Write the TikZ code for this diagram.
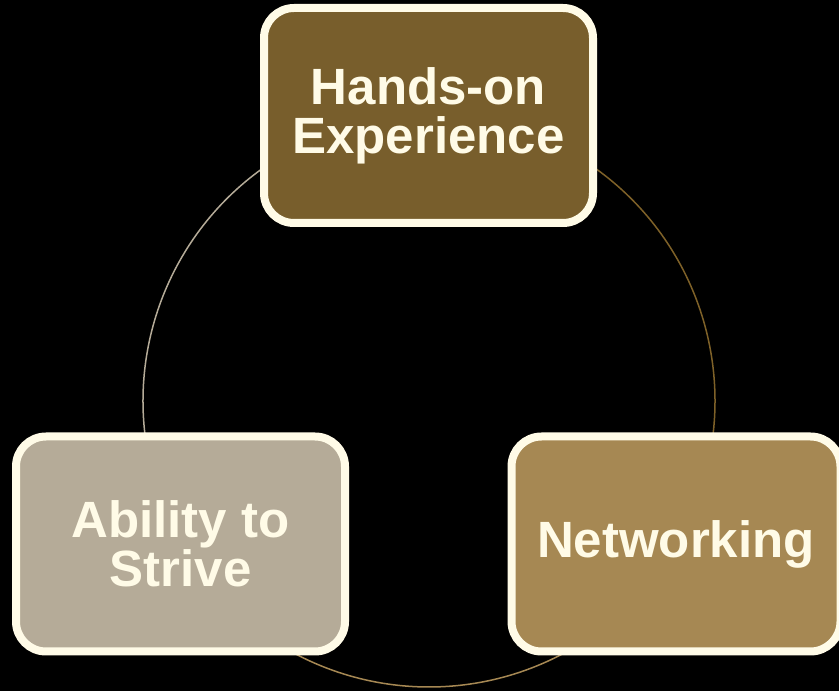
\documentclass[tikz,border=0pt]{standalone}
\usepackage{fontspec}
\setmainfont{Liberation Sans}
\definecolor{cream}{HTML}{FFFBE7}
\definecolor{bronze}{HTML}{785E2C}
\definecolor{stone}{HTML}{B5AB98}
\definecolor{ochre}{HTML}{A68853}
\definecolor{ringgold}{HTML}{7E6128}
\begin{document}
\begin{tikzpicture}[x=1pt,y=1pt,line join=round,
    cyclebox/.style={draw=cream,line width=8pt,rounded corners=30pt,inner sep=0pt,
      minimum width=329pt,minimum height=215pt,align=center,text=cream,
      font=\bfseries\fontsize{51}{49}\selectfont},
    ring/.style={line width=1.5pt}]
  \clip (0,0) rectangle (839,691);
  \fill[black] (0,0) rectangle (839,691);
  \coordinate (hub) at (429,290);
  % ring segments, drawn first so the boxes cover their ends
  \draw[ring,stone] ([shift={(120:286)}]hub) arc[start angle=120,end angle=190,radius=286];
  \draw[ring,ringgold] ([shift={(60:286)}]hub) arc[start angle=60,end angle=-10,radius=286];
  \draw[ring,ochre] ([shift={(240:286)}]hub) arc[start angle=240,end angle=300,radius=286];
  \node[cyclebox,fill=bronze] (hands) at (428.5,575.5) {Hands-on\\Experience};
  \node[cyclebox,fill=stone] (strive) at (180.5,147) {Ability to\\Strive};
  \node[cyclebox,fill=ochre] (net) at (676,147) {Networking};
\end{tikzpicture}
\end{document}
